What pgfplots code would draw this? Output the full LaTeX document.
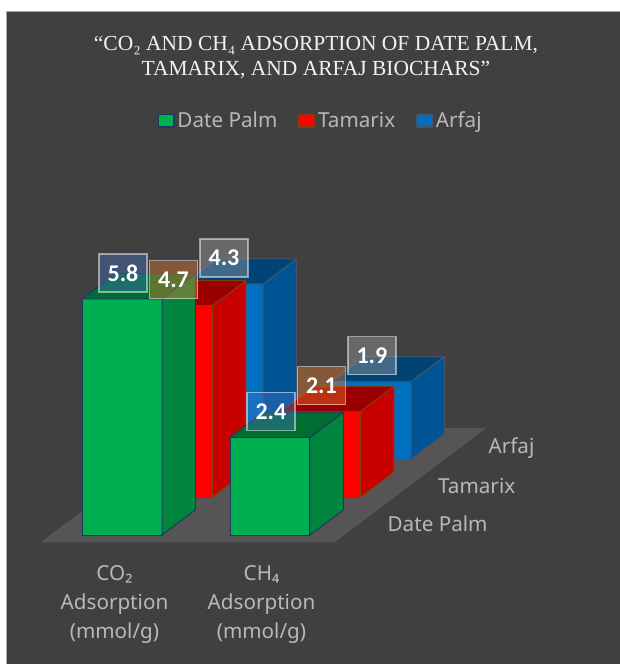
\documentclass[border=0pt]{standalone}
\usepackage{pgfplots}
\pgfplotsset{compat=1.18}
\usepackage{fontspec}
\setmainfont{Noto Sans}
\newfontfamily\titlefont{Liberation Serif}
\newfontfamily\valuefont{Carlito}
\definecolor{panel}{HTML}{404040}
\definecolor{panelline}{HTML}{A6A6A6}
\definecolor{floorc}{HTML}{565454}
\definecolor{ticktext}{HTML}{B8B8B8}
\definecolor{dpfront}{HTML}{00B050}
\definecolor{dpside}{HTML}{00863C}
\definecolor{dptop}{HTML}{006E31}
\definecolor{dpedge}{HTML}{1F3864}
\definecolor{dpbox}{HTML}{4472C4}
\definecolor{tafront}{HTML}{FF0000}
\definecolor{taside}{HTML}{C80000}
\definecolor{tatop}{HTML}{9A0000}
\definecolor{taedge}{HTML}{843C0C}
\definecolor{tabox}{HTML}{ED7D31}
\definecolor{arfront}{HTML}{0070C0}
\definecolor{arside}{HTML}{005494}
\definecolor{artop}{HTML}{004475}
\definecolor{aredge}{HTML}{44546A}
\definecolor{arbox}{HTML}{A5A5A5}
% #1 x0, #2 x1, #3 y0, #4 y1, #5 value, #6 series prefix
\newcommand{\threebar}[6]{%
  \addplot3[forget plot,fill=#6front,draw=#6edge,line width=0.75pt,line join=round]
    coordinates {(#1,#3,0)(#2,#3,0)(#2,#3,#5)(#1,#3,#5)(#1,#3,0)};
  \addplot3[forget plot,fill=#6side,draw=#6edge,line width=0.75pt,line join=round]
    coordinates {(#2,#3,0)(#2,#4,0)(#2,#4,#5)(#2,#3,#5)(#2,#3,0)};
  \addplot3[forget plot,fill=#6top,draw=#6edge,line width=0.75pt,line join=round]
    coordinates {(#1,#3,#5)(#2,#3,#5)(#2,#4,#5)(#1,#4,#5)(#1,#3,#5)};
}
\newcommand{\barlabel}[4]{%
  \addplot3[forget plot,draw=none,mark=none,point meta=z,nodes near coords={\valuefont\bfseries\pgfmathprintnumber[assume math mode=true,fixed,precision=1,zerofill]{\pgfplotspointmeta}},
    nodes near coords style={anchor=center,xshift=0.75pt,yshift=19.5pt,minimum width=36pt,minimum height=28.5pt,inner sep=0pt,
      font=\fontsize{18}{20}\selectfont,text=white,text opacity=1,fill=#4box,fill opacity=0.4,draw=white,draw opacity=0.5,line width=1.1pt}]
    coordinates {(#1,#2,#3)};
}
\begin{document}
\begin{tikzpicture}[x=0.75pt,y=0.75pt]
\useasboundingbox (0,0) rectangle (620,664);
\fill[white] (0,0) rectangle (620,664);
\fill[panel] (6,0) rectangle (620,653);
\draw[panelline,line width=0.75pt] (6.4,0) -- (6.4,652.6) -- (620,652.6);
\begin{axis}[
  at={(30.75pt,91.5pt)},anchor=origin,
  x={(110.25pt,0pt)},y={(37.875pt,28.5pt)},z={(0pt,30.525pt)},
  xmin=0,xmax=2,ymin=0,ymax=3,zmin=0,zmax=6.5,
  clip=false,
  axis line style={draw=none},tick style={draw=none},
  xtick={0.5,1.5},ytick={0.5,1.5,2.5},ztick=\empty,
  xticklabels={{CO₂\\Adsorption\\(mmol/g)},{CH₄\\Adsorption\\(mmol/g)}},
  yticklabels={Date Palm,Tamarix,Arfaj},
  x tick label style={anchor=north,yshift=-14pt,align=center,font=\fontsize{15.5}{21.75}\selectfont,text=ticktext},
  y tick label style={anchor=west,xshift=17pt,yshift=-0.6pt,font=\fontsize{15.5}{18}\selectfont,text=ticktext},
  legend columns=-1,
  legend style={at={(axis description cs:0.5,1)},anchor=center,xshift=43pt,yshift=32pt,draw=none,fill=none,
    font=\fontsize{15.5}{18}\selectfont,text=ticktext,
    /tikz/every even column/.append style={column sep=13.8pt}},
  legend image code/.code={\draw[#1,line width=1.2pt] (0,-4.8pt) rectangle (11.5pt,4.8pt);},
]
\addlegendimage{fill=dpfront,draw=dpedge}
\addlegendentry{Date Palm}
\addlegendimage{fill=tafront,draw=taedge}
\addlegendentry{Tamarix}
\addlegendimage{fill=arfront,draw=aredge}
\addlegendentry{Arfaj}
\addplot3[forget plot,fill=floorc,draw=none] coordinates {(0,0,0)(2,0,0)(2,3,0)(0,3,0)(0,0,0)};
\threebar{0.2157}{0.76}{2.184}{2.845}{4.3}{ar}
\threebar{1.2225}{1.7667}{2.184}{2.845}{1.9}{ar}
\threebar{0.2157}{0.76}{1.184}{1.845}{4.7}{ta}
\threebar{1.2225}{1.7667}{1.184}{1.845}{2.1}{ta}
\threebar{0.2157}{0.76}{0.184}{0.845}{5.8}{dp}
\threebar{1.2225}{1.7667}{0.184}{0.845}{2.4}{dp}
\barlabel{0.488}{2.184}{4.3}{ar}
\barlabel{1.494}{2.184}{1.9}{ar}
\barlabel{0.488}{1.184}{4.7}{ta}
\barlabel{1.494}{1.184}{2.1}{ta}
\barlabel{0.488}{0.184}{5.8}{dp}
\barlabel{1.494}{0.184}{2.4}{dp}
\end{axis}
\node[align=center,text=white!95!black,font=\titlefont\fontsize{16.1}{18.75}\selectfont] at (316,606) {“CO₂ AND CH₄ ADSORPTION OF DATE PALM,\\TAMARIX, AND ARFAJ BIOCHARS”};
\end{tikzpicture}
\end{document}
